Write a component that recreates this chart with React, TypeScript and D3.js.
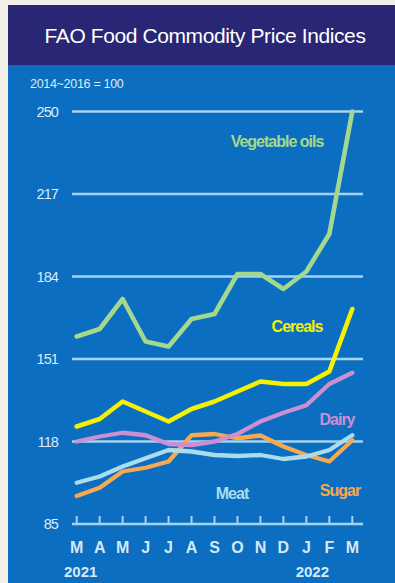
import React from "react";
import * as d3 from "d3";

const months = ["M", "A", "M", "J", "J", "A", "S", "O", "N", "D", "J", "F", "M"];
const yearLabels = [
  { label: "2021", index: 0 },
  { label: "2022", index: 11 },
];
const yTicks = [85, 118, 151, 184, 217, 250];

const vegetableOils = [160, 163, 175, 158, 156, 167, 169, 185, 185, 179, 186, 201, 250];
const cereals = [124, 127, 134, 130, 126, 131, 134, 138, 142, 141, 141, 146, 171];
const dairy = [118, 120, 121.5, 120.5, 117, 116.6, 118, 121, 126, 129.5, 132.5, 141, 145.5];
const meat = [101.5, 104, 108, 111.3, 114.6, 114, 112.6, 112.2, 112.6, 111, 112, 114.6, 120.5];
const sugar = [96.2, 99.5, 106, 107.5, 110, 120.5, 121, 119.3, 120.4, 116, 112.6, 110, 118.5];

const series = [
  { name: "Vegetable oils", values: vegetableOils, color: "#a3d88f", lx: 277, ly: 147, width: 4.6 },
  { name: "Sugar", values: sugar, color: "#f7a94d", lx: 340, ly: 496, width: 4.3 },
  { name: "Meat", values: meat, color: "#aadcee", lx: 232, ly: 499, width: 4.3 },
  { name: "Dairy", values: dairy, color: "#cc8fd2", lx: 337, ly: 425, width: 4.3 },
  { name: "Cereals", values: cereals, color: "#f4f200", lx: 297, ly: 332, width: 4.6 },
];

const W = 395;
const H = 583;

export default function App() {
  const x = d3.scalePoint<number>().domain(d3.range(months.length)).range([76.7, 352.3]);
  const y = d3.scaleLinear().domain([85, 250]).range([524, 111.5]);
  const line = d3
    .line<number>()
    .x((_, i) => x(i) as number)
    .y((d) => y(d));

  const gridColor = "#a6d3f2";
  const font = "'Liberation Sans', Arial, sans-serif";

  return (
    <svg
      width={W}
      height={H}
      style={{ position: "absolute", left: 0, top: 0, display: "block" }}
      fontFamily={font}
    >
      <rect x={0} y={0} width={W} height={H} fill="#f2efe9" />
      <rect x={8} y={5} width={W - 8} height={H - 5} fill="#0b6ec0" />
      <rect x={8} y={5} width={W - 8} height={60} fill="#282675" />
      <text
        x={205}
        y={43}
        fill="#ffffff"
        fontSize={21}
        textAnchor="middle"
        letterSpacing={-0.4}
      >
        FAO Food Commodity Price Indices
      </text>
      <text x={30} y={88} fill="#dcebf8" fontSize={12.5} letterSpacing={-0.3}>
        2014~2016 = 100
      </text>

      {yTicks.map((t) => (
        <g key={t}>
          <line x1={72} x2={363} y1={y(t)} y2={y(t)} stroke={gridColor} strokeWidth={2.5} />
          <text
            x={58}
            y={y(t) + 5}
            fill="#dcebf8"
            fontSize={14.5}
            textAnchor="end"
            letterSpacing={-0.9}
          >
            {t}
          </text>
        </g>
      ))}

      {months.map((m, i) => (
        <g key={i}>
          <line
            x1={x(i)}
            x2={x(i)}
            y1={y(85)}
            y2={y(85) - 8}
            stroke={gridColor}
            strokeWidth={2}
          />
          <text
            x={x(i)}
            y={553}
            fill="#d6e9f7"
            fontSize={16}
            fontWeight="bold"
            textAnchor="middle"
          >
            {m}
          </text>
        </g>
      ))}
      {yearLabels.map((yl) => (
        <text
          key={yl.label}
          x={(x(yl.index) as number) + (yl.index === 0 ? 4 : -17)}
          y={577}
          fill="#d6e9f7"
          fontSize={15}
          fontWeight="bold"
          textAnchor="middle"
        >
          {yl.label}
        </text>
      ))}

      {series.map((s) => (
        <path
          key={s.name}
          d={line(s.values) ?? ""}
          fill="none"
          stroke={s.color}
          strokeWidth={s.width}
          strokeLinejoin="round"
          strokeLinecap="round"
        />
      ))}

      {series.map((s) => (
        <text
          key={s.name + "-label"}
          x={s.lx}
          y={s.ly}
          fill={s.color}
          fontSize={16}
          fontWeight="bold"
          textAnchor="middle"
          letterSpacing={-1}
        >
          {s.name}
        </text>
      ))}
    </svg>
  );
}
